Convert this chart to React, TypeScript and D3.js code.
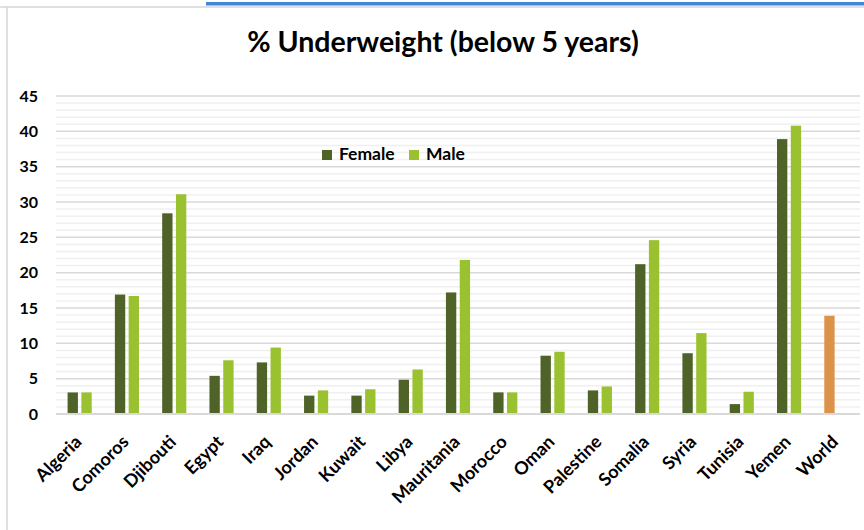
import * as d3 from 'd3';

const categories = ['Algeria', 'Comoros', 'Djibouti', 'Egypt', 'Iraq', 'Jordan', 'Kuwait', 'Libya', 'Mauritania', 'Morocco', 'Oman', 'Palestine', 'Somalia', 'Syria', 'Tunisia', 'Yemen', 'World'];
const female = [3.05, 16.9, 28.4, 5.4, 7.3, 2.6, 2.6, 4.85, 17.2, 3.06, 8.25, 3.34, 21.2, 8.6, 1.4, 38.9, 13.9];
const male: (number | null)[] = [3.05, 16.7, 31.1, 7.6, 9.4, 3.34, 3.5, 6.3, 21.8, 3.06, 8.8, 3.9, 24.6, 11.45, 3.15, 40.8, null];
const seriesNames = ['Female', 'Male'];
const yTicks = [0, 5, 10, 15, 20, 25, 30, 35, 40, 45];

const W = 864;
const H = 530;
const margin = { top: 96, right: 4, bottom: 116, left: 56 };
const font = 'Lato, "Open Sans", sans-serif';
const colors: Record<string, string> = { Female: '#4F6228', Male: '#9AC12F' };
const worldColor = '#DD924A';

export default function App() {
  const x = d3.scaleBand<string>()
    .domain(categories)
    .range([margin.left, W - margin.right])
    .paddingInner(0.49)
    .paddingOuter(0.245);

  const xSub = d3.scaleBand<string>()
    .domain(seriesNames)
    .range([0, x.bandwidth()])
    .paddingInner(0.25);

  const y = d3.scaleLinear()
    .domain([0, 45])
    .range([H - margin.bottom, margin.top]);

  const minor = d3.range(0, 46).filter(v => v % 5 !== 0);

  return (
    <svg width={W} height={H} style={{ position: 'absolute', left: 0, top: 0, background: '#fff' }}>
      {/* frame */}
      <line x1={0} x2={W} y1={7} y2={7} stroke="#D6D6D6" strokeWidth={1.5} />
      <line x1={7} x2={7} y1={7} y2={H} stroke="#D6D6D6" strokeWidth={1.5} />
      <rect x={206} y={2} width={W - 206} height={3.5} fill="#3E86D9" />

      <text x={443} y={52} textAnchor="middle" fontFamily={font} fontWeight={700} fontSize={28.5} fill="#000">
        % Underweight (below 5 years)
      </text>

      {/* gridlines */}
      {minor.map(v => (
        <line key={'m' + v} x1={margin.left} x2={W - margin.right} y1={y(v)} y2={y(v)} stroke="#F0F0F0" strokeWidth={1.5} />
      ))}
      {yTicks.filter(v => v > 0).map(v => (
        <line key={'g' + v} x1={margin.left} x2={W - margin.right} y1={y(v)} y2={y(v)} stroke="#D9D9D9" strokeWidth={1.5} />
      ))}

      {yTicks.map(v => (
        <text key={'t' + v} x={38} y={y(v)} dy="0.36em" textAnchor="end" fontFamily={font} fontWeight={700} fontSize={16} fill="#000">
          {v}
        </text>
      ))}

      {/* bars */}
      {categories.map((c, i) => (
        <g key={c} transform={`translate(${x(c)},0)`}>
          <rect
            x={xSub('Female')}
            y={y(female[i])}
            width={xSub.bandwidth()}
            height={y(0) - y(female[i])}
            fill={c === 'World' ? worldColor : colors.Female}
          />
          {male[i] != null && (
            <rect
              x={xSub('Male')}
              y={y(male[i] as number)}
              width={xSub.bandwidth()}
              height={y(0) - y(male[i] as number)}
              fill={colors.Male}
            />
          )}
        </g>
      ))}

      <line x1={margin.left} x2={W - margin.right} y1={y(0)} y2={y(0)} stroke="#D9D9D9" strokeWidth={2} />

      {/* category labels */}
      {categories.map(c => {
        const cx = (x(c) as number) + x.bandwidth() / 2 + 3;
        return (
          <text key={'l' + c} transform={`translate(${cx},${y(0) + 29}) rotate(-45)`} textAnchor="end" fontFamily={font} fontWeight={700} fontSize={18} fill="#000">
            {c}
          </text>
        );
      })}

      {/* legend */}
      {seriesNames.map((s, i) => {
        const lx = [322, 409][i];
        return (
          <g key={s} transform={`translate(${lx},150)`}>
            <rect x={0} y={0} width={10} height={10} fill={colors[s]} />
            <text x={17} y={10} fontFamily={font} fontWeight={700} fontSize={17.5} fill="#000">{s}</text>
          </g>
        );
      })}
    </svg>
  );
}
